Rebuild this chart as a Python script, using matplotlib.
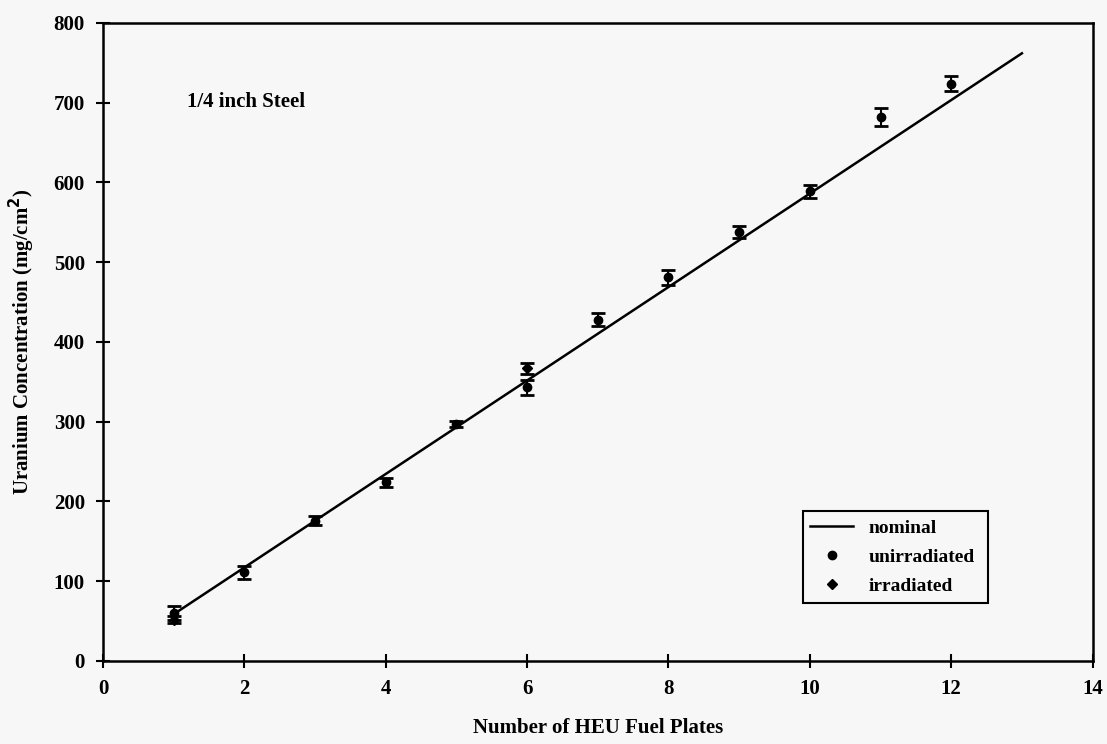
from matplotlib import pyplot as plt
from matplotlib.lines import Line2D

# datos
placas = [1, 2, 3, 4, 5, 6, 7, 8, 9, 10, 11, 12]
no_irradiado = [60, 111, 176, 224, 297, 343, 428, 481, 538, 589, 682, 724]
err_no_irr = [9, 8, 6, 6, 4, 9, 8, 9, 7, 8, 11, 9]
placas_irr = [1, 6]
irradiado = [52, 367]
err_irr = [5, 7]
placas_nom = [1, 13]
nominal = [58.6, 762]

plt.rcParams['font.family'] = ['Liberation Serif', 'DejaVu Serif']
plt.rcParams['font.weight'] = 'bold'

fig = plt.figure(figsize=(11.07, 7.44), dpi=100)
fig.patch.set_facecolor('#f7f7f7')
ax = fig.add_axes([0.093, 0.1116, 0.894, 0.8575])
ax.set_facecolor('#f7f7f7')

ax.plot(placas_nom, nominal, color='black', lw=1.8)
ax.errorbar(placas, no_irradiado, yerr=err_no_irr, fmt='o', color='black',
            ms=6, capsize=5, capthick=2, elinewidth=1.5)
ax.errorbar(placas_irr, irradiado, yerr=err_irr, fmt='D', color='black',
            ms=5, capsize=5, capthick=2, elinewidth=1.5)

ax.set_xlim(0, 14)
ax.set_ylim(0, 800)
ax.set_xticks(range(0, 15, 2))
ax.set_yticks(range(0, 801, 100))
ax.tick_params(direction='inout', length=10, width=1.5, labelsize=15, pad=8)
for s in ax.spines.values():
    s.set_linewidth(1.8)

ax.set_xlabel('Number of HEU Fuel Plates', fontsize=15, fontweight='bold', labelpad=14)
ax.set_ylabel('Uranium Concentration (mg/cm$^\\mathbf{2}$)', fontsize=15,
              fontweight='bold', labelpad=12)
ax.text(0.085, 0.876, '1/4 inch Steel', transform=ax.transAxes, fontsize=15,
        fontweight='bold', va='center')

handles = [Line2D([], [], color='black', lw=1.8),
           Line2D([], [], color='black', marker='o', ls='none', ms=6),
           Line2D([], [], color='black', marker='D', ls='none', ms=5)]
labels = ['nominal', 'unirradiated', 'irradiated']
leg = ax.legend(handles, labels, loc='lower left',
                bbox_to_anchor=(0.707, 0.091, 0.187, 0.152),
                mode='expand', fontsize=14, frameon=True, fancybox=False,
                edgecolor='black', facecolor='#f7f7f7', framealpha=1,
                handlelength=2.2, borderaxespad=0, labelspacing=0.6)
leg.get_frame().set_linewidth(1.5)

plt.savefig('out.png', dpi=100, facecolor=fig.get_facecolor())
